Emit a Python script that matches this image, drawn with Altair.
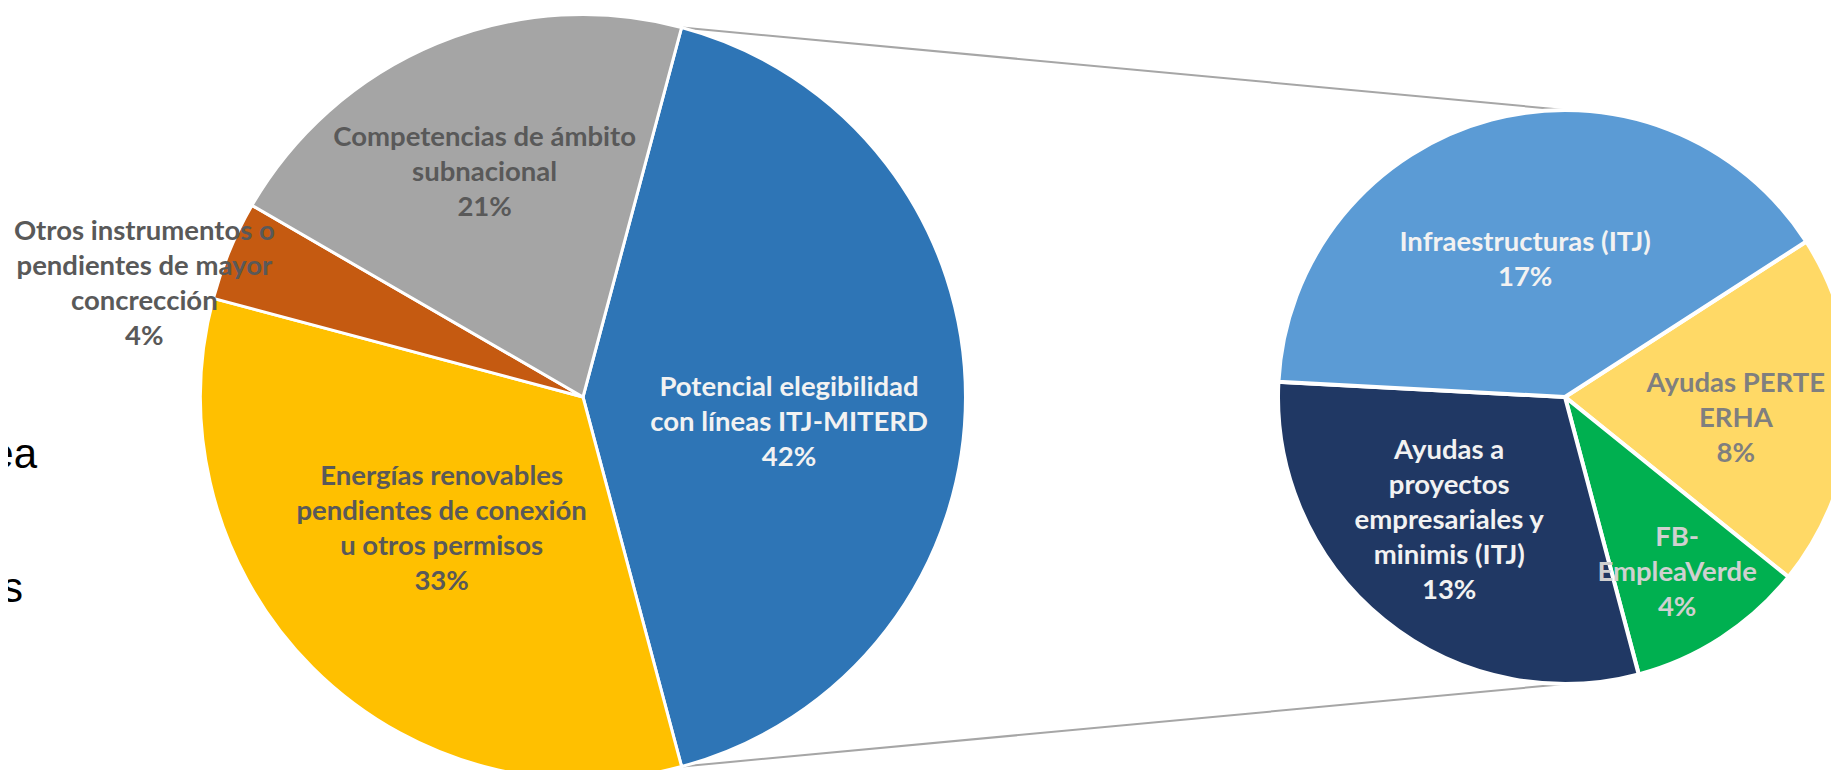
import math
import altair as alt
import pandas as pd

# ---------------- data ----------------
main_cats = [
    "Potencial elegibilidad con líneas ITJ-MITERD",
    "Energías renovables pendientes de conexión u otros permisos",
    "Otros instrumentos o pendientes de mayor concrección",
    "Competencias de ámbito subnacional",
]
main_labels = [
    "Potencial elegibilidad\ncon líneas ITJ-MITERD",
    "Energías renovables\npendientes de conexión\nu otros permisos",
    "Otros instrumentos o\npendientes de mayor\nconcrección",
    "Competencias de ámbito\nsubnacional",
]
main_values = [41.7, 33.3, 4.2, 20.8]

sub_cats = [
    "Ayudas PERTE ERHA",
    "FB-EmpleaVerde",
    "Ayudas a proyectos empresariales y minimis (ITJ)",
    "Infraestructuras (ITJ)",
]
sub_labels = [
    "Ayudas PERTE\nERHA",
    "FB-\nEmpleaVerde",
    "Ayudas a\nproyectos\nempresariales y\nminimis (ITJ)",
    "Infraestructuras (ITJ)",
]
sub_values = [8.3, 4.2, 12.5, 16.7]

side_texts = ["ea", "s"]

# ---------------- styles ----------------
main_colors = ["#2E75B6", "#FFC000", "#C55A11", "#A5A5A5"]
main_text_colors = ["#F2F2F2", "#595959", "#595959", "#595959"]
sub_colors = ["#FFD966", "#00B050", "#203864", "#5B9BD5"]
sub_text_colors = ["#7F7F7F", "#D0D0D0", "#F2F2F2", "#F2F2F2"]

# label placement: (radius fraction, angle offset in degrees from slice middle)
main_label_pos = [(0.543, 7.2), (0.507, 1.8), (1.184, -8.1), (0.64, -1.2)]
sub_label_pos = [(0.60, 4.2), (0.727, 0.5), (0.592, 3.9), (0.495, -1.4)]

W, H = 1823, 762
L_CX, L_CY, L_R = 575, 389, 382.5
R_CX, R_CY, R_R = 1557, 389, 287
SUB_START_DEG = 57.2
FONT = "Lato"
FONT_SIZE = 27.5
LINE_H = 35


def pie_frames(cats, labels, values, start_deg, label_pos, cx, cy, r):
    total = sum(values)
    arcs, texts = [], []
    acc = start_deg
    for i, (c, l, v) in enumerate(zip(cats, labels, values)):
        span = v / total * 360.0
        mid = acc + span / 2.0
        acc += span
        rf, off = label_pos[i]
        a = math.radians(mid + off)
        pct = int(v + 0.5)
        text = f"{l}\n{pct}%"
        n = text.count("\n") + 1
        arcs.append({"cat": c, "value": v, "idx": i})
        texts.append({
            "cat": c,
            "label": text,
            "lx": cx + rf * r * math.sin(a),
            # first line sits at y: shift so the whole block is centred
            "ly": cy - rf * r * math.cos(a) - (n - 1) / 2.0 * LINE_H,
        })
    return pd.DataFrame(arcs), pd.DataFrame(texts)


main_share = main_values[0] / sum(main_values)
main_start_deg = 90.0 - main_share * 360.0 / 2.0

main_arc_df, main_txt_df = pie_frames(main_cats, main_labels, main_values,
                                      main_start_deg, main_label_pos, L_CX, L_CY, L_R)
sub_arc_df, sub_txt_df = pie_frames(sub_cats, sub_labels, sub_values,
                                    SUB_START_DEG, sub_label_pos, R_CX, R_CY, R_R)

# connector lines from the split slice edges to the top/bottom of the second pie
a0 = math.radians(main_start_deg)
a1 = math.radians(main_start_deg + main_share * 360.0)
conn_df = pd.DataFrame({
    "x": [L_CX + L_R * math.sin(a0), L_CX + L_R * math.sin(a1)],
    "y": [L_CY - L_R * math.cos(a0), L_CY - L_R * math.cos(a1)],
    "x2": [R_CX, R_CX],
    "y2": [R_CY - R_R, R_CY + R_R],
})


def arc_layer(df, cats, colors, start_deg, cx, cy, r, sw):
    s = math.radians(start_deg)
    return alt.Chart(df).mark_arc(radius=r, stroke="white", strokeWidth=sw).encode(
        theta=alt.Theta("value:Q", stack=True,
                        scale=alt.Scale(range=[s, s + 2 * math.pi])),
        color=alt.Color("cat:N", scale=alt.Scale(domain=cats, range=colors), legend=None),
        order=alt.Order("idx:Q"),
        x=alt.value(cx),
        y=alt.value(cy),
    )


def text_layer(df, cats, colors):
    return alt.Chart(df).mark_text(
        font=FONT, fontWeight="bold", fontSize=FONT_SIZE, lineHeight=LINE_H,
        lineBreak="\n", align="center", baseline="middle",
    ).encode(
        x=alt.X("lx:Q", scale=None, axis=None),
        y=alt.Y("ly:Q", scale=None, axis=None),
        text="label:N",
        color=alt.Color("cat:N", scale=alt.Scale(domain=cats, range=colors), legend=None),
    )


conn = alt.Chart(conn_df).mark_rule(color="#A6A6A6", strokeWidth=2).encode(
    x=alt.X("x:Q", scale=None, axis=None),
    y=alt.Y("y:Q", scale=None, axis=None),
    x2="x2:Q",
    y2="y2:Q",
)

main_arc = arc_layer(main_arc_df, main_cats, main_colors, main_start_deg, L_CX, L_CY, L_R, 3)
sub_arc = arc_layer(sub_arc_df, sub_cats, sub_colors, SUB_START_DEG, R_CX, R_CY, R_R, 4)
main_txt = text_layer(main_txt_df, main_cats, main_text_colors)
sub_txt = text_layer(sub_txt_df, sub_cats, sub_text_colors)

side1 = alt.Chart(pd.DataFrame({"t": [side_texts[0]]})).mark_text(
    font="Liberation Sans", fontSize=42, align="right", baseline="alphabetic", color="#000000"
).encode(text="t:N", x=alt.value(29), y=alt.value(460))
side2 = alt.Chart(pd.DataFrame({"t": [side_texts[1]]})).mark_text(
    font="Liberation Sans", fontSize=42, align="right", baseline="alphabetic", color="#000000"
).encode(text="t:N", x=alt.value(15), y=alt.value(594))

chart = alt.layer(conn, main_arc, sub_arc, main_txt, sub_txt, side1, side2).resolve_scale(
    color="independent", theta="independent"
).properties(
    width=W, height=H, padding=0,
    autosize=alt.AutoSizeParams(type="none"),
).configure_view(stroke=None)

chart.save("out.html", embed_options={"renderer": "svg", "actions": False})
